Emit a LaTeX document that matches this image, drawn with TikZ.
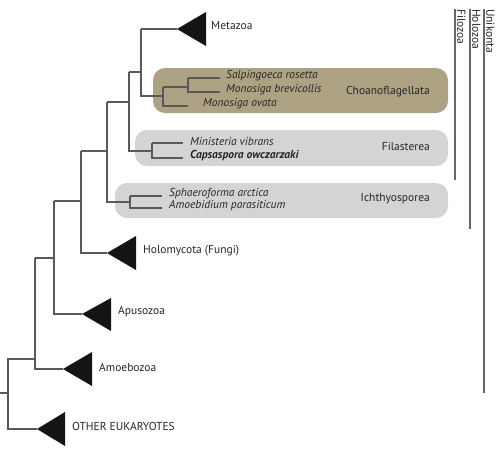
\documentclass[tikz,border=0pt]{standalone}
\usepackage{fontspec}
\setmainfont{PT Sans}
\begin{document}
\begin{tikzpicture}[x=1pt,y=-1pt,
  br/.style={draw=black!65,line width=1.1pt},
  tri/.style={fill=black!92,draw=none},
  big/.style={anchor=west,inner sep=0pt,font=\fontsize{11.5}{13}\selectfont,text=black!85},
  sp/.style={anchor=west,inner sep=0pt,font=\fontsize{11.5}{13}\selectfont\itshape,text=black!85},
  grp/.style={anchor=east,inner sep=0pt,font=\fontsize{11.5}{13}\selectfont,text=black!85},
  vlab/.style={anchor=south west,rotate=-90,inner sep=0pt,font=\fontsize{11.5}{13}\selectfont,text=black!85},
  bar/.style={draw=black!60,line width=1.3pt},
  boxc/.style={fill={rgb,255:red,173;green,163;blue,132},rounded corners=12pt},
  boxg/.style={fill={rgb,255:red,212;green,212;blue,212},rounded corners=12pt}]
\useasboundingbox (0,0) rectangle (500,451);
% boxes
\fill[boxc] (153,68) rectangle (448,113);
\fill[boxg] (135,130) rectangle (448,166);
\fill[boxg] (115,183) rectangle (448,218);
% internal nodes
\coordinate (root0) at (0,393);
\coordinate (nR) at (8,393);
\coordinate (n1) at (35,359);
\coordinate (n2) at (54,258);
\coordinate (n3) at (81,201);
\coordinate (n4) at (107,151);
\coordinate (n5) at (129,102);
\coordinate (n6) at (141,72);
\coordinate (nC) at (163,96);
\coordinate (nC2) at (188,87);
\coordinate (nF) at (152,151);
\coordinate (nI) at (130,202);
% tips of collapsed clades
\coordinate (tMet) at (177,29);
\coordinate (tHol) at (107,253);
\coordinate (tApu) at (82,314);
\coordinate (tAmo) at (63,369);
\coordinate (tOth) at (37,429);
% leaf ends
\coordinate (lSal) at (220,78);
\coordinate (lMbr) at (220,92);
\coordinate (lMov) at (188,106);
\coordinate (lMin) at (183,143);
\coordinate (lCap) at (183,158);
\coordinate (lSph) at (162,196);
\coordinate (lAmb) at (162,208);
% branches
\draw[br] (root0) -- (nR);
\draw[br] (n1) -| (nR) |- (tOth);
\draw[br] (n1 |- n2) -- (n1 |- tAmo) -- (tAmo);
\draw[br] (n1 |- n2) -- (n2);
\draw[br] (n2 |- n3) -- (n2 |- tApu) -- (tApu);
\draw[br] (n2 |- n3) -- (n3);
\draw[br] (n3 |- n4) -- (n3 |- tHol) -- (tHol);
\draw[br] (n3 |- n4) -- (n4);
\draw[br] (n4 |- n5) -- (n4 |- nI) -- (nI);
\draw[br] (n4 |- n5) -- (n5);
\draw[br] (n5 |- n6) -- (n5 |- nF) -- (nF);
\draw[br] (n5 |- n6) -- (n6);
\draw[br] (n6 |- tMet) -- (tMet);
\draw[br] (n6 |- tMet) -- (n6 |- nC) -- (nC);
\draw[br] (nC |- nC2) -- (nC |- lMov) -- (lMov);
\draw[br] (nC |- nC2) -- (nC2);
\draw[br] (nC2 |- lSal) -- (lSal);
\draw[br] (nC2 |- lSal) -- (nC2 |- lMbr) -- (lMbr);
\draw[br] (nF |- lMin) -- (lMin);
\draw[br] (nF |- lMin) -- (nF |- lCap) -- (lCap);
\draw[br] (nI |- lSph) -- (lSph);
\draw[br] (nI |- lSph) -- (nI |- lAmb) -- (lAmb);
% triangles
\fill[tri] (tMet) -- ++(29,-17) -- ++(0,34) -- cycle;
\fill[tri] (tHol) -- ++(29,-17) -- ++(0,34) -- cycle;
\fill[tri] (tApu) -- ++(29,-16) -- ++(0,33) -- cycle;
\fill[tri] (tAmo) -- ++(29,-17) -- ++(0,34) -- cycle;
\fill[tri] (tOth) -- ++(28,-17) -- ++(0,34) -- cycle;
% labels
\node[big] (Met) at (211,26) {Metazoa};
\node[big] (Hol) at (143,251) {Holomycota (Fungi)};
\node[big] (Apu) at (118,312) {Apusozoa};
\node[big] (Amo) at (99,367) {Amoebozoa};
\node[big] (Oth) at (72,426) {OTHER EUKARYOTES};
\node[sp] (Sal) at (226,76) {Salpingoeca rosetta};
\node[sp] (Mbr) at (226,90) {Monosiga brevicollis};
\node[sp] (Mov) at (203,104) {Monosiga ovata};
\node[sp] (Min) at (190,141) {Ministeria vibrans};
\node[sp,font=\fontsize{11.5}{13}\selectfont\bfseries\itshape] (Cap) at (190,156) {Capsaspora owczarzaki};
\node[sp] (Sph) at (169,194) {Sphaeroforma arctica};
\node[sp] (Amb) at (169,206) {Amoebidium parasiticum};
\node[grp] (Cho) at (430,92) {Choanoflagellata};
\node[grp] (Fil) at (430,146) {Filasterea};
\node[grp] (Ich) at (430,199) {Ichthyosporea};
% bars
\coordinate (fTop) at (455,9); \coordinate (fBot) at (455,180);
\coordinate (hTop) at (470,9); \coordinate (hBot) at (470,229);
\coordinate (uTop) at (484,9); \coordinate (uBot) at (484,393);
\draw[bar] (fTop) -- (fBot);
\draw[bar] (hTop) -- (hBot);
\draw[bar] (uTop) -- (uBot);
\node[vlab] (Filo) at (457,9) {Filozoa};
\node[vlab] (Holo) at (472,9) {Holozoa};
\node[vlab] (Uni) at (486,9) {Unikonta};
\end{tikzpicture}
\end{document}
